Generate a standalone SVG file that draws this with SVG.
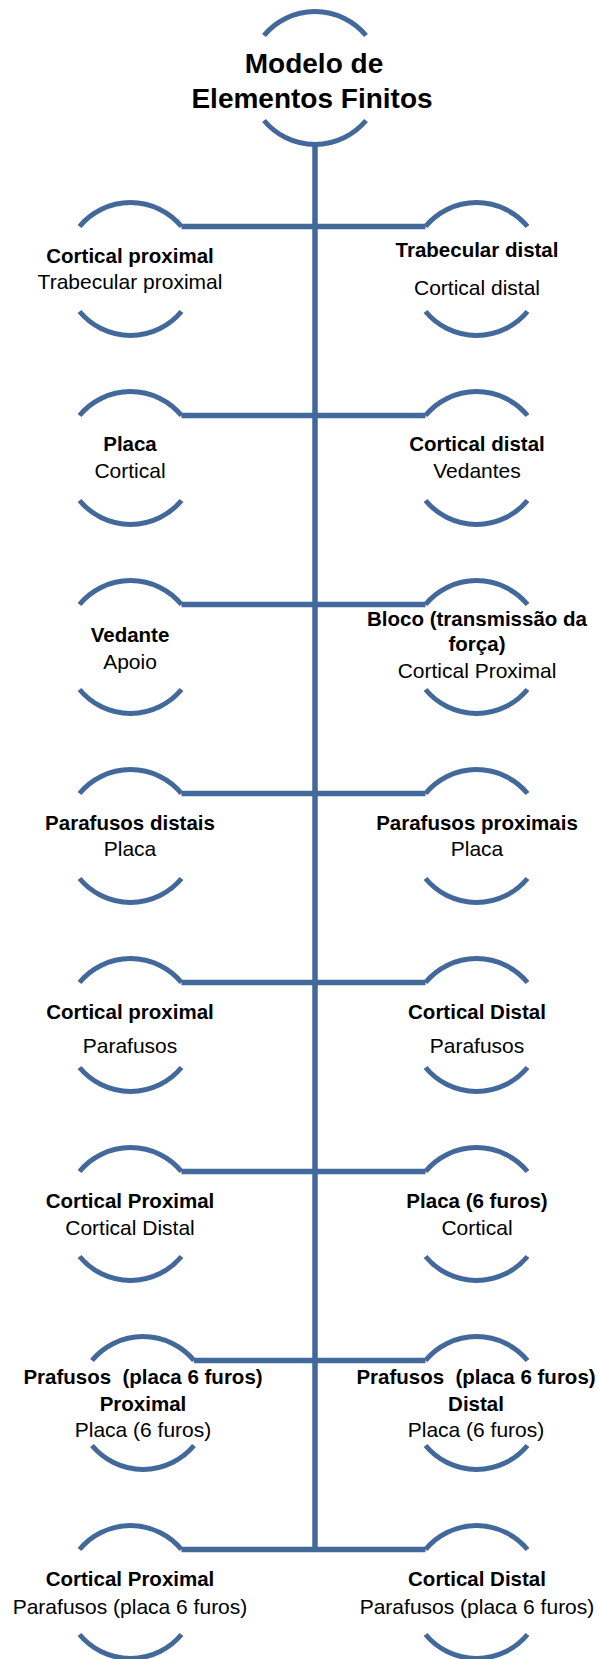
<svg xmlns="http://www.w3.org/2000/svg" width="598" height="1659" viewBox="0 0 598 1659">
<style>
.arc{fill:none;stroke:#43699B;stroke-width:5}
.ln{fill:none;stroke:#43699B;stroke-width:5.5}
text{font-family:"Liberation Sans",Arial,sans-serif;text-anchor:middle;fill:#000}
.b{font-weight:bold;font-size:20.5px}
.r{font-size:21px}
.t{font-weight:bold;font-size:28px}
</style>
<defs>
<path id="ring" class="arc" d="M-51,-42.5 A66.4,66.4 0 0 1 51,-42.5 M-51,42.5 A66.4,66.4 0 0 0 51,42.5"/>
</defs>
<g id="connectors">
<line class="ln" x1="315" y1="144" x2="315" y2="1552"/>
<line class="ln" x1="181.5" y1="226.5" x2="425.5" y2="226.5"/>
<line class="ln" x1="181.5" y1="415.5" x2="425.5" y2="415.5"/>
<line class="ln" x1="181.5" y1="604.5" x2="425.5" y2="604.5"/>
<line class="ln" x1="181.5" y1="793.5" x2="425.5" y2="793.5"/>
<line class="ln" x1="181.5" y1="982.5" x2="425.5" y2="982.5"/>
<line class="ln" x1="181.5" y1="1171.5" x2="425.5" y2="1171.5"/>
<line class="ln" x1="194" y1="1360.5" x2="425.5" y2="1360.5"/>
<line class="ln" x1="181.5" y1="1549.5" x2="425.5" y2="1549.5"/>
</g>
<g id="root">
<use href="#ring" x="315" y="78"/>
<text class="t" x="314" y="73">Modelo de</text>
<text class="t" x="312" y="107.5">Elementos Finitos</text>
</g>
<g id="n1L"><use href="#ring" x="130.5" y="269"/>
<text class="b" x="130" y="262.5">Cortical proximal</text><text class="r" x="130" y="288.5">Trabecular proximal</text></g>
<g id="n1R"><use href="#ring" x="476.5" y="269"/>
<text class="b" x="477" y="256.5">Trabecular distal</text><text class="r" x="477" y="294.5">Cortical distal</text></g>
<g id="n2L"><use href="#ring" x="130.5" y="458"/>
<text class="b" x="130" y="450.5">Placa</text><text class="r" x="130" y="477.5">Cortical</text></g>
<g id="n2R"><use href="#ring" x="476.5" y="458"/>
<text class="b" x="477" y="450.5">Cortical distal</text><text class="r" x="477" y="477.5">Vedantes</text></g>
<g id="n3L"><use href="#ring" x="130.5" y="647"/>
<text class="b" x="130" y="641.5">Vedante</text><text class="r" x="130" y="668.5">Apoio</text></g>
<g id="n3R"><use href="#ring" x="476.5" y="647"/>
<text class="b" x="477" y="625.5">Bloco (transmissão da</text><text class="b" x="477" y="650.5">força)</text><text class="r" x="477" y="677.5">Cortical Proximal</text></g>
<g id="n4L"><use href="#ring" x="130.5" y="836"/>
<text class="b" x="130" y="829.5">Parafusos distais</text><text class="r" x="130" y="855.5">Placa</text></g>
<g id="n4R"><use href="#ring" x="476.5" y="836"/>
<text class="b" x="477" y="829.5">Parafusos proximais</text><text class="r" x="477" y="855.5">Placa</text></g>
<g id="n5L"><use href="#ring" x="130.5" y="1025"/>
<text class="b" x="130" y="1018.5">Cortical proximal</text><text class="r" x="130" y="1052.5">Parafusos</text></g>
<g id="n5R"><use href="#ring" x="476.5" y="1025"/>
<text class="b" x="477" y="1018.5">Cortical Distal</text><text class="r" x="477" y="1052.5">Parafusos</text></g>
<g id="n6L"><use href="#ring" x="130.5" y="1214"/>
<text class="b" x="130" y="1207.5">Cortical Proximal</text><text class="r" x="130" y="1234.5">Cortical Distal</text></g>
<g id="n6R"><use href="#ring" x="476.5" y="1214"/>
<text class="b" x="477" y="1207.5">Placa (6 furos)</text><text class="r" x="477" y="1234.5">Cortical</text></g>
<g id="n7L"><use href="#ring" x="143" y="1403"/>
<text class="b" x="143" y="1383.5" xml:space="preserve">Prafusos  (placa 6 furos)</text><text class="b" x="143" y="1410.5">Proximal</text><text class="r" x="143" y="1436.5">Placa (6 furos)</text></g>
<g id="n7R"><use href="#ring" x="476.5" y="1403"/>
<text class="b" x="476" y="1383.5" xml:space="preserve">Prafusos  (placa 6 furos)</text><text class="b" x="476" y="1410.5">Distal</text><text class="r" x="476" y="1436.5">Placa (6 furos)</text></g>
<g id="n8L"><use href="#ring" x="130.5" y="1592"/>
<text class="b" x="130" y="1585.5">Cortical Proximal</text><text class="r" x="130" y="1613.5">Parafusos (placa 6 furos)</text></g>
<g id="n8R"><use href="#ring" x="476.5" y="1592"/>
<text class="b" x="477" y="1585.5">Cortical Distal</text><text class="r" x="477" y="1613.5">Parafusos (placa 6 furos)</text></g>
</svg>
